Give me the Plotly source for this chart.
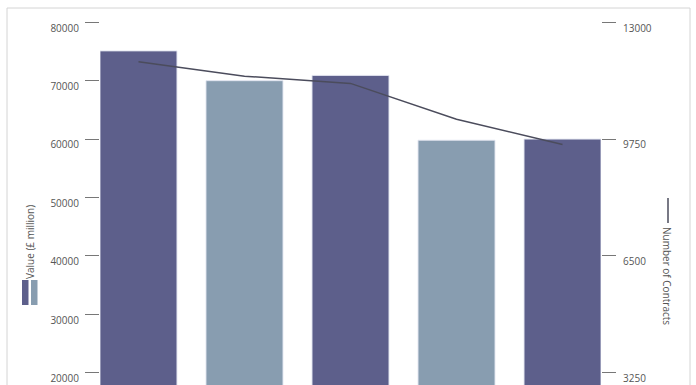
import plotly.graph_objects as go

categories = ["Period 1", "Period 2", "Period 3", "Period 4", "Period 5"]
values_gbp_million = [75100, 70000, 70900, 59800, 60000]
contracts = [11900, 11500, 11300, 10300, 9600]
left_ticks = [20000, 30000, 40000, 50000, 60000, 70000, 80000]
left_tick_labels = ["20000", "30000", "40000", "50000", "60000", "70000", "80000"]
right_ticks = [3250, 6500, 9750, 13000]
right_tick_labels = ["3250", "6500", "9750", "13000"]

DARK = "#5d5f8b"
LIGHT = "#889db0"
bar_colors = [DARK, LIGHT, DARK, LIGHT, DARK]
TXT = "#555555"
FONT = "Open Sans"

W, H = 696, 385
L, R = 100, 95
pw = W - L - R

y_lo, y_hi = 17893, 83818
scale = 13000 / 80000
label_shift = 5.7 * (y_hi - y_lo) / H  # labels sit slightly below their tick marks

fig = go.Figure()
fig.add_trace(go.Bar(
    x=categories, y=values_gbp_million,
    marker=dict(color=bar_colors, line=dict(color="rgba(225,228,240,0.9)", width=1)),
    yaxis="y", width=0.726, showlegend=False,
))
fig.add_trace(go.Scatter(
    x=categories, y=contracts, mode="lines", line=dict(color="#4b4c5c", width=1.5),
    yaxis="y2", showlegend=False,
))
# invisible traces to activate label axes
fig.add_trace(go.Scatter(x=[categories[0]], y=[None], yaxis="y3", showlegend=False, hoverinfo="skip"))
fig.add_trace(go.Scatter(x=[categories[0]], y=[None], yaxis="y4", showlegend=False, hoverinfo="skip"))

def px(xp):
    return (xp - L) / pw

def py(yp):
    return (H - yp) / H

common = dict(showgrid=False, zeroline=False, showline=False)
fig.update_layout(
    width=W, height=H, margin=dict(l=L, r=R, t=0, b=0),
    paper_bgcolor="white", plot_bgcolor="white",
    font=dict(family=FONT, size=10, color=TXT),
    xaxis=dict(range=[-0.363, 4.363], showticklabels=False, showgrid=False, zeroline=False, ticks=""),
    yaxis=dict(range=[y_lo, y_hi], tickvals=left_ticks, ticks="outside", ticklen=14, tickcolor="#777777",
               tickwidth=1, showticklabels=False, **common),
    yaxis2=dict(range=[y_lo * scale, y_hi * scale], tickvals=right_ticks, overlaying="y", side="right",
                ticks="outside", ticklen=14, tickcolor="#777777", tickwidth=1, showticklabels=False, **common),
    yaxis3=dict(range=[y_lo + label_shift, y_hi + label_shift], tickvals=left_ticks, ticktext=left_tick_labels,
                overlaying="y", side="left", ticks="outside", ticklen=14, tickcolor="rgba(0,0,0,0)",
                ticklabelstandoff=4, tickfont=dict(size=10, color=TXT), **common),
    yaxis4=dict(range=[(y_lo + label_shift) * scale, (y_hi + label_shift) * scale], tickvals=right_ticks,
                ticktext=right_tick_labels, overlaying="y", side="right", ticks="outside", ticklen=14,
                tickcolor="rgba(0,0,0,0)", ticklabelstandoff=5, tickfont=dict(size=10, color=TXT), **common),
    bargap=0.274,
)

shapes = [
    dict(type="rect", xref="paper", yref="paper", x0=px(7), x1=px(690), y0=py(420), y1=py(8),
         line=dict(color="#d4d4d4", width=1), fillcolor="rgba(0,0,0,0)", layer="below"),
    dict(type="rect", xref="paper", yref="paper", x0=px(22), x1=px(28.5), y0=py(305), y1=py(280),
         line=dict(width=0), fillcolor=DARK),
    dict(type="rect", xref="paper", yref="paper", x0=px(31), x1=px(37.5), y0=py(305), y1=py(280),
         line=dict(width=0), fillcolor=LIGHT),
    dict(type="line", xref="paper", yref="paper", x0=px(668), x1=px(668), y0=py(223), y1=py(198),
         line=dict(color="#4b4c5c", width=1.5)),
]
fig.update_layout(shapes=shapes)

fig.add_annotation(text="Value (£ million)", xref="paper", yref="paper", x=px(30), y=py(242),
                   textangle=-90, showarrow=False, font=dict(size=10, color=TXT), xanchor="center", yanchor="middle")
fig.add_annotation(text="Number of Contracts", xref="paper", yref="paper", x=px(667), y=py(276),
                   textangle=90, showarrow=False, font=dict(size=10, color=TXT), xanchor="center", yanchor="middle")

fig.write_html("out.html")
